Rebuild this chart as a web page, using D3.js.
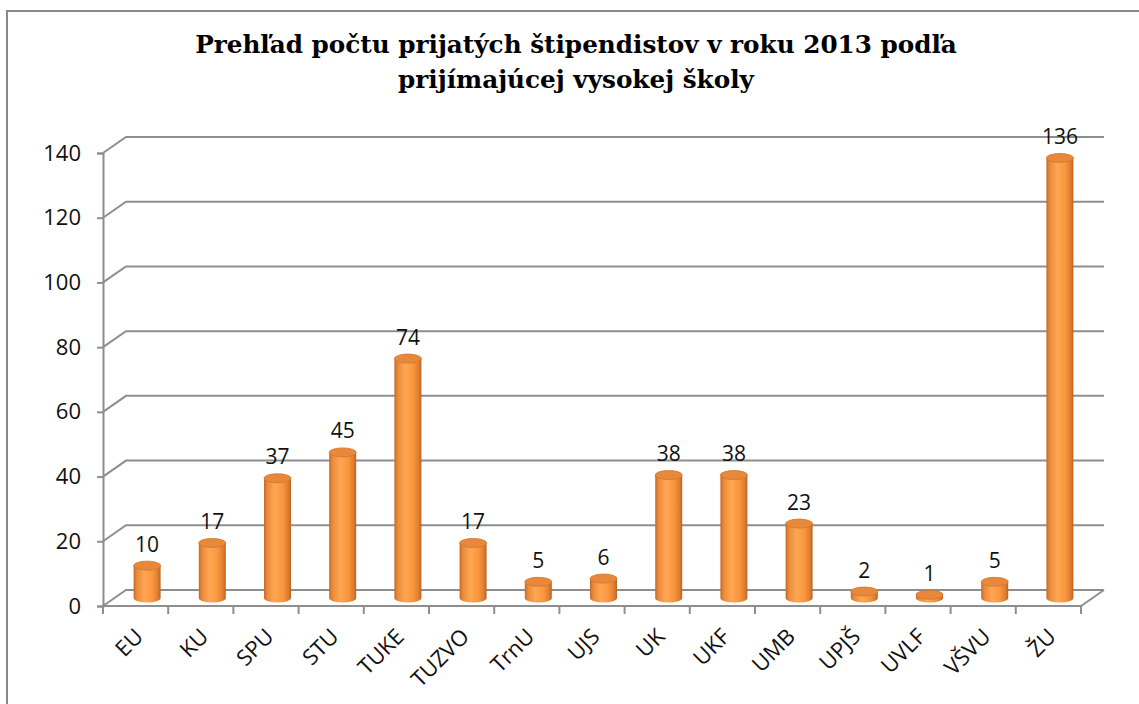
<!DOCTYPE html>
<html>
<head>
<meta charset="utf-8">
<script src="https://cdn.jsdelivr.net/npm/d3@7/dist/d3.min.js"></script>
<style>
  body { margin: 0; background: #fff; }
  svg { display: block; }
</style>
</head>
<body>
<div id="chart"></div>
<script>
const svgw = 1139
const svgh = 704

// data
const schools = ['EU', 'KU', 'SPU', 'STU', 'TUKE', 'TUZVO', 'TrnU', 'UJS', 'UK', 'UKF', 'UMB', 'UPJŠ', 'UVLF', 'VŠVU', 'ŽU']
const counts = [10, 17, 37, 45, 74, 17, 5, 6, 38, 38, 23, 2, 1, 5, 136]
const yTicks = [0, 20, 40, 60, 80, 100, 120, 140]
const titleLines = ['Prehľad počtu prijatých štipendistov v roku 2013 podľa', 'prijímajúcej vysokej školy']

// 3d depth offset of the back wall
const depth = { dx: 23, dy: -16 }
const gridColor = '#8e8e8e'

const svg = d3.select('#chart')
    .append('svg')
    .attr('width', svgw)
    .attr('height', svgh)

// outer chart border (only left/top visible in the picture)
svg.append('rect')
    .attr('x', 7).attr('y', 11)
    .attr('width', 1300).attr('height', 900)
    .attr('fill', 'none')
    .attr('stroke', '#898989')
    .attr('stroke-width', 2)

svg.append('g')
    .selectAll('text')
    .data(titleLines)
    .enter()
    .append('text')
    .attr('x', 576)
    .attr('y', (d, i) => 53 + i * 35)
    .attr('text-anchor', 'middle')
    .attr('font-family', 'DejaVu Serif')
    .attr('font-weight', 'bold')
    .attr('font-size', 24.7)
    .attr('fill', '#000')
    .text(d => d)

const xScale = d3.scaleBand()
    .domain(schools)
    .range([103, 1081])

const yScale = d3.scaleLinear()
    .domain([0, 140])
    .range([606, 153])

const x0 = xScale.range()[0]
const x1 = xScale.range()[1]

// back wall grid + left side wall
const grid = svg.append('g')
    .attr('fill', 'none')
    .attr('stroke', gridColor)
    .attr('stroke-width', 2)

grid.selectAll('path')
    .data(yTicks)
    .enter()
    .append('path')
    .attr('d', d => `M${x0},${yScale(d)} L${x0 + depth.dx},${yScale(d) + depth.dy} L${x1 + depth.dx},${yScale(d) + depth.dy}`)

// floor front edge and right edge
grid.append('path')
    .attr('d', `M${x0},${yScale(0)} L${x1},${yScale(0)} L${x1 + depth.dx},${yScale(0) + depth.dy}`)

// y axis
const yAxis = d3.axisLeft(yScale)
    .tickValues(yTicks)
    .tickSize(6)
    .tickPadding(16)

const yg = svg.append('g')
    .attr('transform', `translate(${x0},0)`)
    .call(yAxis)
yg.select('.domain').attr('stroke', gridColor).attr('stroke-width', 2)
yg.selectAll('.tick line').attr('stroke', gridColor).attr('stroke-width', 2)
yg.selectAll('.tick text')
    .attr('font-family', 'Open Sans')
    .attr('font-size', 22)
    .attr('fill', '#111')

// x axis ticks at category boundaries
const bounds = schools.map(s => xScale(s)).concat([x1])
svg.append('g')
    .selectAll('line')
    .data(bounds)
    .enter()
    .append('line')
    .attr('x1', d => d).attr('x2', d => d)
    .attr('y1', yScale(0)).attr('y2', yScale(0) + 8)
    .attr('stroke', gridColor)
    .attr('stroke-width', 2)

// category labels
svg.append('g')
    .selectAll('text')
    .data(schools)
    .enter()
    .append('text')
    .attr('transform', d => `translate(${xScale(d) + xScale.bandwidth() / 2 + 9},${yScale(0) + 32}) rotate(-45)`)
    .attr('text-anchor', 'end')
    .attr('font-family', 'Open Sans')
    .attr('font-size', 22)
    .attr('fill', '#111')
    .text(d => d)

// cylinder gradients
const defs = svg.append('defs')
const grad = defs.append('linearGradient')
    .attr('id', 'cyl')
    .attr('x1', 0).attr('x2', 1).attr('y1', 0).attr('y2', 0)
grad.selectAll('stop')
    .data([
        [0, '#c46a25'],
        [0.12, '#ea8a3b'],
        [0.4, '#ffa653'],
        [0.7, '#f9963e'],
        [0.9, '#dc7d30'],
        [1, '#b86322']
    ])
    .enter()
    .append('stop')
    .attr('offset', d => d[0])
    .attr('stop-color', d => d[1])

const bw = 27
const ry = 4.5
const cx = d => xScale(d) + xScale.bandwidth() / 2 + depth.dx / 2
const baseY = yScale(0) + depth.dy / 2
const topY = v => yScale(v) + depth.dy / 2

const bars = svg.append('g')
    .selectAll('g')
    .data(schools.map((s, i) => ({ s, v: counts[i] })))
    .enter()
    .append('g')

bars.append('path')
    .attr('d', d => {
        const l = cx(d.s) - bw / 2
        const r = cx(d.s) + bw / 2
        const t = topY(d.v)
        return `M${l},${t} L${l},${baseY} A${bw / 2},${ry} 0 0 0 ${r},${baseY} L${r},${t} Z`
    })
    .attr('fill', 'url(#cyl)')

bars.append('ellipse')
    .attr('cx', d => cx(d.s))
    .attr('cy', d => topY(d.v))
    .attr('rx', bw / 2)
    .attr('ry', ry)
    .attr('fill', '#e8883b')
    .attr('stroke', '#d07628')
    .attr('stroke-width', 0.8)

// value labels
bars.append('text')
    .attr('x', d => cx(d.s))
    .attr('y', d => topY(d.v) - 14)
    .attr('text-anchor', 'middle')
    .attr('font-family', 'Open Sans')
    .attr('font-size', 21)
    .attr('fill', '#111')
    .text(d => d.v)
</script>
</body>
</html>
